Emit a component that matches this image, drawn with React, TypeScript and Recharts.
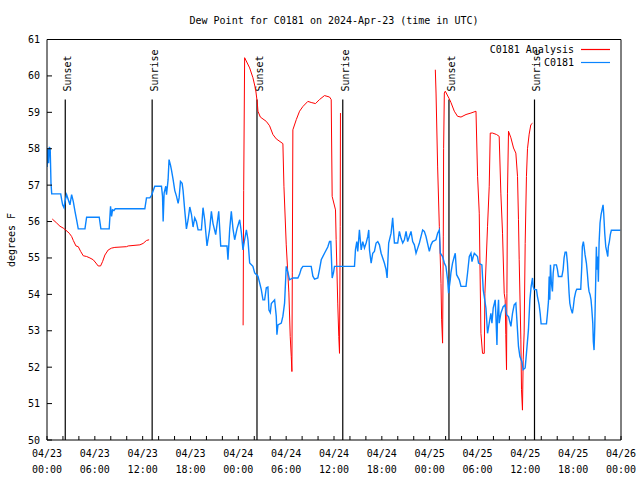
import { LineChart, Line, XAxis, YAxis, ReferenceLine, Legend } from 'recharts';

// C0181 observed dew point (hours since 04/23 00:00 UTC, degF)
const obsPoints: [number, number][] = [
  [0, 57.5], [0.1, 58.0], [0.2, 57.6], [0.3, 58.05], [0.4, 58.0], [0.5, 57.06], [0.59, 56.76], [1.72, 56.76],
  [1.84, 56.6], [1.96, 56.46], [2.13, 56.38], [2.25, 56.55], [2.46, 56.74], [2.67, 56.6], [2.88, 56.46],
  [3.09, 56.74], [3.3, 56.55], [3.51, 56.28], [3.71, 56.05], [3.92, 55.8], [4.76, 55.8], [4.97, 56.12],
  [6.55, 56.12], [6.76, 55.8], [7.8, 55.8], [7.97, 56.42], [8.1, 56.14], [8.22, 56.32], [8.39, 56.3],
  [8.56, 56.35], [12.27, 56.35], [12.48, 56.65], [12.9, 56.65], [13.11, 56.72], [13.52, 56.97], [14.36, 56.97],
  [14.49, 56.7], [14.57, 56.0], [14.69, 56.78], [14.9, 56.97], [14.99, 56.74], [15.19, 57.15], [15.31, 57.7],
  [15.49, 57.55], [15.61, 57.42], [15.82, 57.15], [16.03, 56.85], [16.24, 56.7], [16.45, 56.5], [16.57, 56.65],
  [16.74, 57.1], [16.95, 57.05], [17.07, 56.85], [17.28, 56.3], [17.49, 55.8], [17.7, 56.05], [17.91, 56.4],
  [18.12, 56.2], [18.32, 55.85], [18.53, 56.1], [18.74, 56.0], [18.95, 55.77], [19.37, 55.77], [19.57, 56.38],
  [19.78, 56.05], [20.07, 55.33], [20.41, 55.8], [20.62, 56.28], [20.82, 55.95], [21.16, 55.64], [21.54, 56.28],
  [21.79, 55.33], [22.58, 55.33], [22.7, 54.95], [22.92, 55.8], [23.12, 56.28], [23.33, 55.8], [23.54, 55.5],
  [23.83, 55.8], [24.17, 56.05], [24.38, 55.7], [24.58, 55.22], [24.79, 55.5], [25.01, 55.77], [25.21, 55.5],
  [25.42, 54.86], [25.83, 54.77], [26.05, 54.59], [26.46, 54.5], [26.67, 54.32], [26.88, 54.13], [27.09, 53.85],
  [27.3, 53.85], [27.51, 54.18], [27.71, 54.2], [27.84, 53.57], [28.01, 53.5], [28.14, 53.75], [28.55, 53.85],
  [28.76, 53.39], [28.84, 52.89], [28.97, 53.16], [29.39, 53.21], [29.59, 53.4], [29.8, 53.76], [30.01, 54.77],
  [30.22, 54.6], [30.43, 54.4], [30.84, 54.45], [31.47, 54.45], [31.68, 54.55], [31.89, 54.7], [32.1, 54.77],
  [33.14, 54.77], [33.35, 54.5], [33.56, 54.42], [33.97, 54.45], [34.18, 54.68], [34.4, 54.95], [34.81, 55.13],
  [35.22, 55.3], [35.44, 55.45], [35.6, 55.45], [35.77, 54.45], [35.94, 54.6], [36.06, 54.77], [38.57, 54.77],
  [38.69, 55.22], [38.86, 55.45], [38.98, 55.18], [39.19, 55.77], [39.41, 55.22], [39.61, 55.45], [39.82, 55.27],
  [40.03, 55.41], [40.24, 55.59], [40.36, 55.77], [40.45, 55.22], [40.66, 54.86], [40.86, 55.13], [41.07, 55.18],
  [41.28, 55.41], [41.49, 55.45], [41.7, 55.36], [41.91, 55.13], [42.11, 55.0], [42.32, 54.86], [42.53, 54.68],
  [42.66, 54.45], [42.86, 55.41], [43.16, 55.68], [43.36, 56.1], [43.58, 55.41], [43.99, 55.41], [44.2, 55.73],
  [44.41, 55.54], [44.62, 55.41], [44.83, 55.5], [45.04, 55.73], [45.24, 55.45], [45.45, 55.59], [45.66, 55.73],
  [45.87, 55.45], [46.08, 55.36], [46.29, 55.13], [46.5, 55.27], [46.71, 55.41], [47.12, 55.77], [47.33, 55.73],
  [47.54, 55.59], [47.96, 55.18], [48.17, 55.36], [48.37, 55.45], [48.79, 55.5], [49.0, 55.68], [49.21, 55.77],
  [49.34, 55.13], [49.62, 55.04], [49.84, 54.86], [50.04, 54.77], [50.25, 54.4], [50.37, 54.03], [50.46, 54.2],
  [50.58, 54.4], [50.67, 54.6], [50.87, 54.86], [51.09, 55.04], [51.21, 55.13], [51.38, 54.54], [51.72, 54.4],
  [51.93, 54.22], [52.56, 54.22], [52.76, 54.6], [52.97, 55.04], [53.18, 55.13], [53.31, 54.9], [53.47, 55.04],
  [53.6, 55.13], [54.0, 55.04], [54.13, 54.86], [54.55, 54.81], [54.72, 54.12], [54.84, 53.95], [55.06, 53.62],
  [55.26, 52.93], [55.47, 53.21], [55.68, 53.48], [55.81, 53.21], [55.97, 53.62], [56.22, 53.85], [56.31, 53.39],
  [56.44, 52.61], [56.51, 53.39], [56.64, 53.85], [56.72, 53.21], [56.93, 53.48], [57.22, 53.66], [57.47, 53.71],
  [57.64, 53.44], [57.89, 53.39], [58.19, 53.12], [58.39, 53.48], [58.6, 53.71], [58.81, 53.76], [58.94, 53.3],
  [59.14, 52.57], [59.32, 52.29], [59.57, 52.15], [59.73, 51.93], [59.98, 51.98], [60.14, 52.38], [60.39, 53.03],
  [60.57, 53.85], [60.73, 54.22], [60.9, 54.45], [60.98, 54.22], [61.11, 54.13], [61.4, 54.13], [61.52, 53.94],
  [61.73, 53.71], [61.86, 53.48], [61.98, 53.19], [62.65, 53.19], [62.77, 53.46], [62.9, 53.8], [62.99, 54.49],
  [63.07, 53.85], [63.15, 54.81], [63.27, 54.31], [63.4, 54.08], [63.49, 54.58], [63.61, 54.81], [63.9, 54.81],
  [64.03, 54.68], [64.15, 54.49], [64.58, 54.49], [64.74, 54.68], [64.86, 55.0], [64.99, 55.16], [65.15, 55.16],
  [65.28, 54.86], [65.4, 54.4], [65.49, 54.03], [65.58, 53.76], [65.7, 53.62], [65.83, 53.53], [65.9, 53.48],
  [66.03, 53.67], [66.15, 53.9], [66.33, 54.08], [66.45, 54.14], [66.95, 54.14], [67.08, 54.77], [67.15, 55.31],
  [67.28, 55.45], [67.37, 55.31], [67.49, 55.09], [67.66, 54.86], [67.78, 54.58], [67.91, 54.22], [67.99, 54.08],
  [68.12, 53.99], [68.24, 53.85], [68.33, 53.62], [68.46, 53.21], [68.53, 52.7], [68.62, 52.47], [68.71, 53.12],
  [68.83, 54.4], [68.91, 55.31], [68.99, 54.68], [69.08, 55.04], [69.16, 54.35], [69.25, 55.41], [69.37, 55.96],
  [69.5, 56.19], [69.62, 56.32], [69.75, 56.46], [69.83, 56.23], [69.96, 55.68], [70.09, 55.31], [70.21, 55.18],
  [70.34, 55.04], [70.41, 55.31], [70.54, 55.45], [70.66, 55.64], [70.79, 55.76], [71.91, 55.76],
];

// C0181 analysis (null = gap in the record)
const anaPoints: [number, number | null][] = [
  [0.66, 56.07], [1.21, 55.96], [1.63, 55.87], [2.04, 55.82], [2.38, 55.76], [2.79, 55.68], [3.09, 55.59],
  [3.3, 55.48], [3.63, 55.33], [3.92, 55.31], [4.22, 55.18], [4.55, 55.06], [4.97, 55.04], [5.38, 55.0],
  [5.8, 54.95], [6.14, 54.86], [6.42, 54.78], [6.72, 54.78], [6.97, 54.9], [7.26, 55.08], [7.68, 55.22],
  [8.1, 55.27], [8.51, 55.29], [9.98, 55.31], [10.18, 55.33], [11.65, 55.36], [12.06, 55.4], [12.48, 55.48],
  [12.81, 55.5], [18, null],
  [24.6, 53.15], [24.67, 56.85], [24.79, 60.5], [25.42, 60.22], [25.83, 59.95], [26.17, 59.63], [26.38, 59.26],
  [26.46, 59.03], [26.76, 58.87], [27.51, 58.75], [27.92, 58.63], [28.34, 58.39], [28.76, 58.27], [29.59, 58.14],
  [29.72, 56.97], [30.01, 55.36], [30.34, 54.04], [30.51, 52.84], [30.64, 52.29], [30.72, 51.88], [30.77, 54.59],
  [30.84, 58.52], [31.27, 58.8], [31.68, 59.03], [32.1, 59.16], [32.72, 59.3], [33.14, 59.27], [33.68, 59.24],
  [34.18, 59.35], [34.81, 59.46], [35.44, 59.42], [35.65, 59.35], [35.77, 56.69], [36.19, 56.32], [36.27, 55.5],
  [36.47, 53.76], [36.6, 52.84], [36.69, 52.38], [36.78, 55.87], [36.81, 58.98], [42, null],
  [48.71, 60.17], [48.8, 59.53], [49.0, 57.5], [49.21, 55.87], [49.42, 54.3], [49.5, 53.3], [49.62, 52.66],
  [49.71, 55.6], [49.75, 58.0], [49.84, 59.53], [49.96, 59.58], [50.46, 59.37], [50.67, 59.27], [51.09, 59.03],
  [51.5, 58.89], [51.93, 58.87], [52.56, 58.94], [53.18, 58.98], [53.81, 59.03], [54.01, 57.24], [54.22, 56.23],
  [54.43, 52.93], [54.63, 52.38], [54.85, 52.38], [54.93, 54.03], [55.26, 55.87], [55.47, 56.97], [55.6, 58.43],
  [55.89, 58.43], [56.39, 58.39], [56.72, 58.34], [56.93, 56.78], [57.14, 55.68], [57.35, 54.03], [57.47, 53.85],
  [57.55, 52.9], [57.64, 51.93], [57.69, 54.03], [57.76, 56.78], [57.89, 58.48], [58.19, 58.3], [58.52, 58.02],
  [58.81, 57.88], [59.02, 57.24], [59.14, 56.05], [59.23, 54.95], [59.44, 52.75], [59.52, 51.38], [59.64, 50.82],
  [59.73, 52.2], [59.85, 52.94], [59.98, 55.4], [60.14, 57.24], [60.27, 58.0], [60.48, 58.4], [60.69, 58.66],
  [60.9, 58.7],
];

const sunHours = [2.29, 13.19, 26.34, 37.1, 50.42, 61.15];
const sunLabels = ['Sunset', 'Sunrise', 'Sunset', 'Sunrise', 'Sunset', 'Sunrise'];
const sunLineTop = 59.35;

const xTicks = [0, 2, 4, 6, 8, 10, 12, 14, 16, 18, 20, 22, 24, 26, 28, 30, 32, 34, 36, 38, 40, 42, 44, 46, 48, 50, 52, 54, 56, 58, 60, 62, 64, 66, 68, 70, 72];
const labelHours = [0, 6, 12, 18, 24, 30, 36, 42, 48, 54, 60, 66, 72];
const dayLabels = ['04/23', '04/23', '04/23', '04/23', '04/24', '04/24', '04/24', '04/24', '04/25', '04/25', '04/25', '04/25', '04/26'];
const timeLabels = ['00:00', '06:00', '12:00', '18:00', '00:00', '06:00', '12:00', '18:00', '00:00', '06:00', '12:00', '18:00', '00:00'];
const yTicks = [50, 51, 52, 53, 54, 55, 56, 57, 58, 59, 60, 61];

const RED = '#ff0000';
const BLUE = '#0a84ff';
const FONT = "'DejaVu Sans Mono', monospace";
const legendItems = [
  { name: 'C0181 Analysis', color: RED },
  { name: 'C0181', color: BLUE },
];

const obsData = obsPoints.map(([h, v]) => ({ h, v }));
const anaData = anaPoints.map(([h, v]) => ({ h, v }));

const BottomTick = (props: any) => {
  const { x, y, payload } = props;
  const i = labelHours.indexOf(payload.value);
  return (
    <g>
      <line x1={x} y1={y} x2={x} y2={y - 4} stroke="#000" />
      {i >= 0 && (
        <text x={x} y={y + 17} textAnchor="middle" fontFamily={FONT} fontSize={10} fill="#000">
          <tspan x={x}>{dayLabels[i]}</tspan>
          <tspan x={x} dy={16}>{timeLabels[i]}</tspan>
        </text>
      )}
    </g>
  );
};

const TopTick = (props: any) => {
  const { x, y } = props;
  return <line x1={x} y1={y} x2={x} y2={y + 4} stroke="#000" />;
};

const LeftTick = (props: any) => {
  const { x, y, payload } = props;
  return (
    <g>
      <line x1={x} y1={y} x2={x + 5} y2={y} stroke="#000" />
      <text x={x - 7} y={y + 3.5} textAnchor="end" fontFamily={FONT} fontSize={10} fill="#000">
        {payload.value}
      </text>
    </g>
  );
};

const RightTick = (props: any) => {
  const { x, y } = props;
  return <line x1={x} y1={y} x2={x - 5} y2={y} stroke="#000" />;
};

const SunLabel = (props: any) => {
  const { viewBox, text } = props;
  const tx = viewBox.x + 6;
  const ty = viewBox.y - 8;
  return (
    <text x={tx} y={ty} transform={`rotate(-90 ${tx} ${ty})`} fontFamily={FONT} fontSize={10} fill="#000">
      {text}
    </text>
  );
};

const LegendBox = () => (
  <svg width={220} height={30}>
    {legendItems.map((it, i) => (
      <g key={it.name}>
        <text x={174} y={13 + i * 13} textAnchor="end" fontFamily={FONT} fontSize={10} fill="#000">
          {it.name}
        </text>
        <line x1={181} y1={9.5 + i * 13} x2={210} y2={9.5 + i * 13} stroke={it.color} strokeWidth={1.2} />
      </g>
    ))}
  </svg>
);

export default function App() {
  return (
    <div style={{ position: 'absolute', left: 0, top: 0, width: 640, height: 480, background: '#fff' }}>
      <LineChart width={640} height={480} margin={{ top: 38.5, right: 18, bottom: 39, left: 46 }}>
        <XAxis
          dataKey="h"
          type="number"
          domain={[0, 72]}
          ticks={xTicks}
          interval={0}
          height={1}
          tickSize={0}
          tickMargin={0}
          tickLine={false}
          tick={<BottomTick />}
          axisLine={{ stroke: '#000' }}
          allowDataOverflow
        />
        <XAxis
          xAxisId="top"
          orientation="top"
          dataKey="h"
          type="number"
          domain={[0, 72]}
          ticks={xTicks}
          interval={0}
          height={1}
          tickSize={0}
          tickMargin={0}
          tickLine={false}
          tick={<TopTick />}
          axisLine={{ stroke: '#000' }}
        />
        <YAxis
          type="number"
          domain={[50, 61]}
          ticks={yTicks}
          interval={0}
          width={1}
          tickSize={0}
          tickMargin={0}
          tickLine={false}
          tick={<LeftTick />}
          axisLine={{ stroke: '#000' }}
          allowDataOverflow
        />
        <YAxis
          yAxisId="right"
          orientation="right"
          type="number"
          domain={[50, 61]}
          ticks={yTicks}
          interval={0}
          width={1}
          tickSize={0}
          tickMargin={0}
          tickLine={false}
          tick={<RightTick />}
          axisLine={{ stroke: '#000' }}
        />
        {sunHours.map((h, i) => (
          <ReferenceLine
            key={h}
            segment={[{ x: h, y: 50 }, { x: h, y: sunLineTop }]}
            stroke="#000"
            strokeWidth={1.2}
            label={<SunLabel text={sunLabels[i]} />}
          />
        ))}
        <Line
          data={anaData}
          dataKey="v"
          name="C0181 Analysis"
          type="linear"
          stroke={RED}
          strokeWidth={1}
          dot={false}
          activeDot={false}
          connectNulls={false}
          isAnimationActive={false}
        />
        <Line
          data={obsData}
          dataKey="v"
          name="C0181"
          type="linear"
          stroke={BLUE}
          strokeWidth={1.4}
          dot={false}
          activeDot={false}
          isAnimationActive={false}
        />
        <Legend
          layout="vertical"
          align="center"
          verticalAlign="middle"
          content={<LegendBox />}
          wrapperStyle={{ position: 'absolute', top: 40, left: 400, width: 220, height: 30 }}
        />
      </LineChart>
      <svg width={640} height={480} style={{ position: 'absolute', left: 0, top: 0, pointerEvents: 'none' }}>
        <text x={334} y={23.5} textAnchor="middle" fontFamily={FONT} fontSize={10} fill="#000">
          Dew Point for C0181 on 2024-Apr-23 (time in UTC)
        </text>
        <text x={15} y={240} textAnchor="middle" transform="rotate(-90 15 240)" fontFamily={FONT} fontSize={10} fill="#000">
          degrees F
        </text>
      </svg>
    </div>
  );
}
